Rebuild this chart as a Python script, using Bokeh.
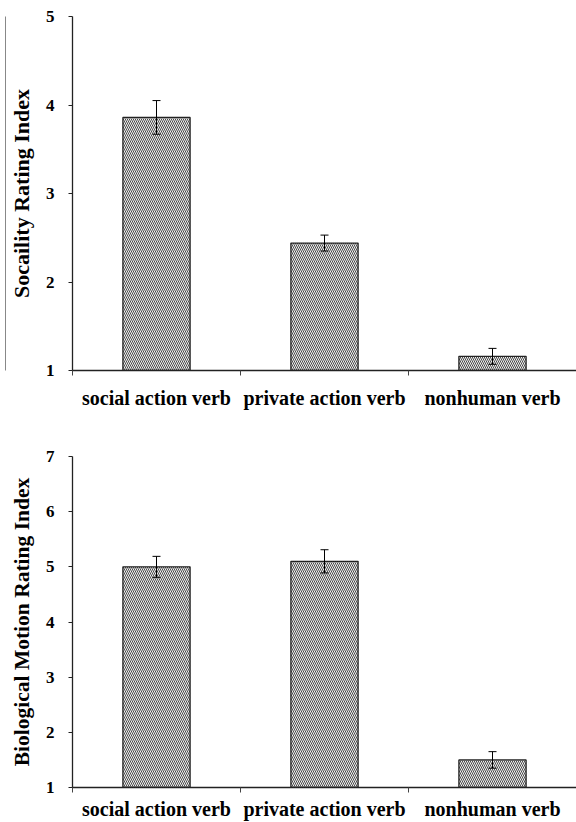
from bokeh.plotting import figure
from bokeh.models import ColumnDataSource, Whisker, TeeHead, FixedTicker, LinearAxis, Range1d
from bokeh.layouts import column
from bokeh.embed import file_html
from bokeh.resources import INLINE

categories = ["social action verb", "private action verb", "nonhuman verb"]
sociality_mean = [3.86, 2.44, 1.16]
sociality_err = [0.19, 0.09, 0.09]
biomotion_mean = [5.00, 5.10, 1.50]
biomotion_err = [0.19, 0.21, 0.15]
sociality_ticks = [1, 2, 3, 4, 5]
biomotion_ticks = [1, 2, 3, 4, 5, 6, 7]

FONT = "Liberation Serif"


def make(mean, err, ticks, ylabel, height, top_border, bottom_border, x_standoff,
         title_size, extra_line=False):
    n = len(categories)
    xs = [i + 0.5 for i in range(n)]
    p = figure(width=576, height=height, x_range=Range1d(0, n),
               y_range=Range1d(ticks[0], ticks[-1]),
               output_backend="svg", toolbar_location=None,
               x_axis_type=None, y_axis_type=None,
               min_border_top=top_border, min_border_bottom=bottom_border,
               min_border_right=0, min_border_left=72)
    p.outline_line_color = None
    p.background_fill_color = "white"
    p.border_fill_color = "white"

    src = ColumnDataSource(dict(
        x=xs, top=mean,
        upper=[m + e for m, e in zip(mean, err)],
        lower=[m - e for m, e in zip(mean, err)],
    ))
    p.vbar(x="x", top="top", bottom=ticks[0], width=0.4, source=src,
           fill_color="#f0f0f0", line_color="#222222", line_width=1.3,
           hatch_pattern="\\", hatch_color="#4a4a4a", hatch_scale=4, hatch_weight=1)

    w = Whisker(base="x", upper="upper", lower="lower", source=src,
                line_color="black", line_width=1, level="overlay",
                upper_head=TeeHead(size=8, line_color="black", line_width=1),
                lower_head=TeeHead(size=8, line_color="black", line_width=1))
    p.add_layout(w)

    xaxis = LinearAxis(ticker=FixedTicker(ticks=xs, minor_ticks=list(range(n + 1))),
                       major_label_overrides={x: c for x, c in zip(xs, categories)})
    xaxis.major_tick_out = 0
    xaxis.major_tick_in = 0
    xaxis.minor_tick_out = 5
    xaxis.minor_tick_in = 0
    xaxis.minor_tick_line_color = "#444444"
    xaxis.axis_line_color = "#222222"
    xaxis.axis_line_width = 1.3
    xaxis.major_label_standoff = x_standoff
    xaxis.major_label_text_font = FONT
    xaxis.major_label_text_font_style = "bold"
    xaxis.major_label_text_font_size = "20px"
    xaxis.major_label_text_color = "black"
    p.add_layout(xaxis, "below")

    yaxis = LinearAxis(ticker=FixedTicker(ticks=ticks), axis_label=ylabel)
    yaxis.major_tick_out = 4
    yaxis.major_tick_in = 0
    yaxis.minor_tick_line_color = None
    yaxis.axis_line_color = "#222222"
    yaxis.axis_line_width = 1.3
    yaxis.major_tick_line_color = "#222222"
    yaxis.major_label_standoff = 14
    yaxis.major_label_text_font = FONT
    yaxis.major_label_text_font_style = "bold"
    yaxis.major_label_text_font_size = "17px"
    yaxis.major_label_text_color = "black"
    yaxis.axis_label_text_font = FONT
    yaxis.axis_label_text_font_style = "bold"
    yaxis.axis_label_text_font_size = title_size
    yaxis.axis_label_text_color = "black"
    yaxis.axis_label_standoff = 9
    p.add_layout(yaxis, "left")

    if extra_line:
        ex = LinearAxis(ticker=FixedTicker(ticks=[]))
        ex.axis_line_color = "#888888"
        ex.axis_line_width = 1
        ex.major_tick_line_color = None
        ex.minor_tick_line_color = None
        ex.major_label_text_font_size = "0px"
        ex.major_label_standoff = 0
        p.add_layout(ex, "left")
    return p


p1 = make(sociality_mean, sociality_err, sociality_ticks, "Socaility Rating Index",
          412, 16, 42, 11, "22px", extra_line=True)
p2 = make(biomotion_mean, biomotion_err, biomotion_ticks, "Biological Motion Rating Index",
          410, 44, 35, 5, "21.5px")

layout = column(p1, p2, spacing=0)
open("out.html", "w").write(file_html(layout, INLINE))
